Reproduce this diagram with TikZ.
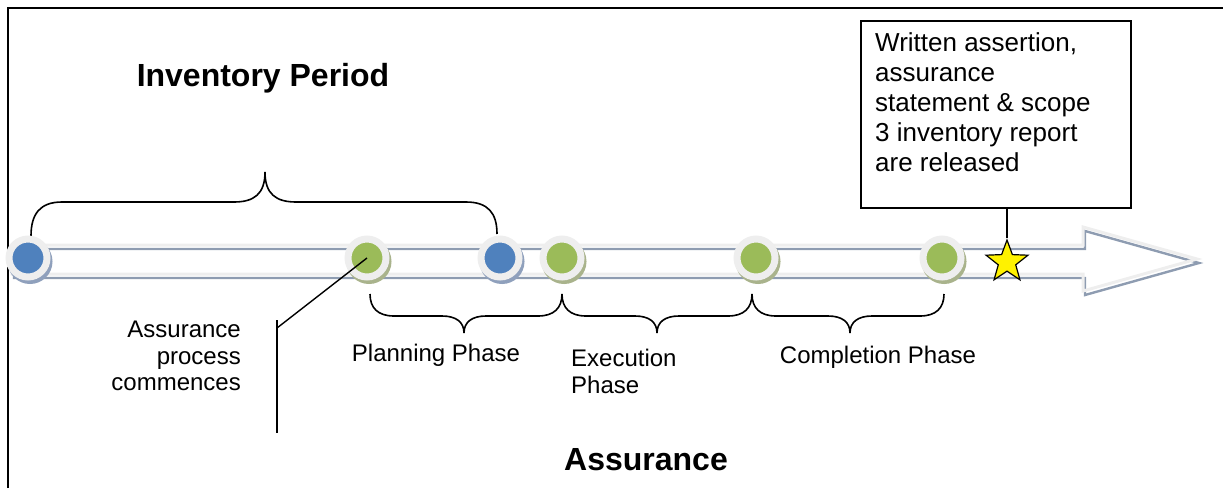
\documentclass[tikz,border=0pt]{standalone}
\usepackage{fontspec}
\setmainfont{Liberation Sans}
\usetikzlibrary{shapes.geometric,calc}
\definecolor{ringgray}{HTML}{EEEEEE}
\definecolor{bandshadow}{HTML}{8E9CB1}
\definecolor{dotblue}{HTML}{4F81BD}
\definecolor{dotgreen}{HTML}{9BBB59}
\definecolor{blueshadow}{HTML}{8FA0BC}
\definecolor{greenshadow}{HTML}{A9B38C}
\tikzset{
  ring/.style={circle, minimum size=38pt, inner sep=0pt, line width=7pt, draw=ringgray},
  bluedot/.style={ring, fill=dotblue,
    preaction={draw=blueshadow, fill=blueshadow, transform canvas={shift={(2pt,-3.5pt)}}}},
  greendot/.style={ring, fill=dotgreen,
    preaction={draw=greenshadow, fill=greenshadow, transform canvas={shift={(2pt,-3.5pt)}}}},
  bracepath/.style={draw=black, line width=1.6pt},
  conn/.style={draw=black, line width=1.4pt},
  regtext/.style={inner sep=0pt, font=\fontsize{24}{26.5}\selectfont},
  boldtext/.style={inner sep=0pt, font=\fontsize{32}{35}\selectfont\bfseries},
}
\begin{document}
\begin{tikzpicture}[x=1pt, y=-1pt]
\useasboundingbox (0,0) rectangle (1223,488);
% frame
\draw[line width=2pt] (8,488) -- (8,8) -- (1223,8);
% arrow band: shadow then light outline
\draw[bandshadow, line width=2.4pt, line join=miter]
  (14,249) -- (1085,249) -- (1085,231) -- (1199,263) -- (1085,295) -- (1085,278) -- (14,278) -- cycle;
\draw[ringgray, line width=3pt, line join=miter]
  (12,245) -- (1083,245) -- (1083,227) -- (1197,259) -- (1083,291) -- (1083,274) -- (12,274) -- cycle;
% top brace
\draw[bracepath] (31,236) .. controls (31,214) and (40,202) .. (62,202) -- (234,202)
  .. controls (254,202) and (265,194) .. (265,172)
  .. controls (265,194) and (276,202) .. (296,202) -- (466,202)
  .. controls (488,202) and (497,213) .. (497,234);
% bottom braces
\foreach \xa/\xm/\xb in {370/464/562, 562/657/752, 752/850/944}{
  \draw[bracepath] (\xa,294) .. controls (\xa,308) and (\xa+8,316) .. (\xa+24,316) -- (\xm-22,316)
    .. controls (\xm-8,316) and (\xm,322) .. (\xm,333)
    .. controls (\xm,322) and (\xm+8,316) .. (\xm+22,316) -- (\xb-24,316)
    .. controls (\xb-8,316) and (\xb,308) .. (\xb,294);
}
% circles
\node[bluedot] (b1) at (28,258) {};
\node[greendot] (g1) at (367,258) {};
\node[bluedot] (b2) at (500,258) {};
\node[greendot] (g2) at (562,258) {};
\node[greendot] (g3) at (756,258) {};
\node[greendot] (g4) at (942,258) {};
% star
\node[star, star points=5, star point ratio=2.4, minimum size=44pt, inner sep=0pt,
      fill=yellow, draw=black, line width=1.2pt] (star) at (1007,262) {};
% box
\node[draw=black, line width=2.2pt, minimum width=270pt, minimum height=187pt,
      anchor=north west, inner sep=0pt] (box) at (860,20) {};
\node[anchor=north west, align=left, inner sep=0pt,
      font=\fontsize{26}{30}\selectfont] (boxtext) at ($(box.north west)+(15,12)$)
  {Written assertion,\\assurance\\statement \& scope\\3 inventory report\\are released};
\draw[conn] (star.north |- box.south) -- (star.north);
% connectors to label
\coordinate (vtop) at (277,320);
\coordinate (vbot) at (277,433);
\coordinate (vjoin) at (277,328);
\draw[conn] (vtop) -- (vbot);
\draw[conn] (vjoin) -- (g1.center);
% texts
\node[boldtext] (inv) at (263,78) {Inventory Period};
\node[boldtext] (ass) at (646,460) {Assurance};
\node[regtext, anchor=north east, align=right] (apc) at (241,321)
  {Assurance\\process\\commences};
\node[regtext] (plan) at (436,355) {Planning Phase};
\node[regtext, anchor=north west, align=left] (exec) at (571,349) {Execution\\Phase};
\node[regtext] (comp) at (878,357) {Completion Phase};
\end{tikzpicture}
\end{document}
